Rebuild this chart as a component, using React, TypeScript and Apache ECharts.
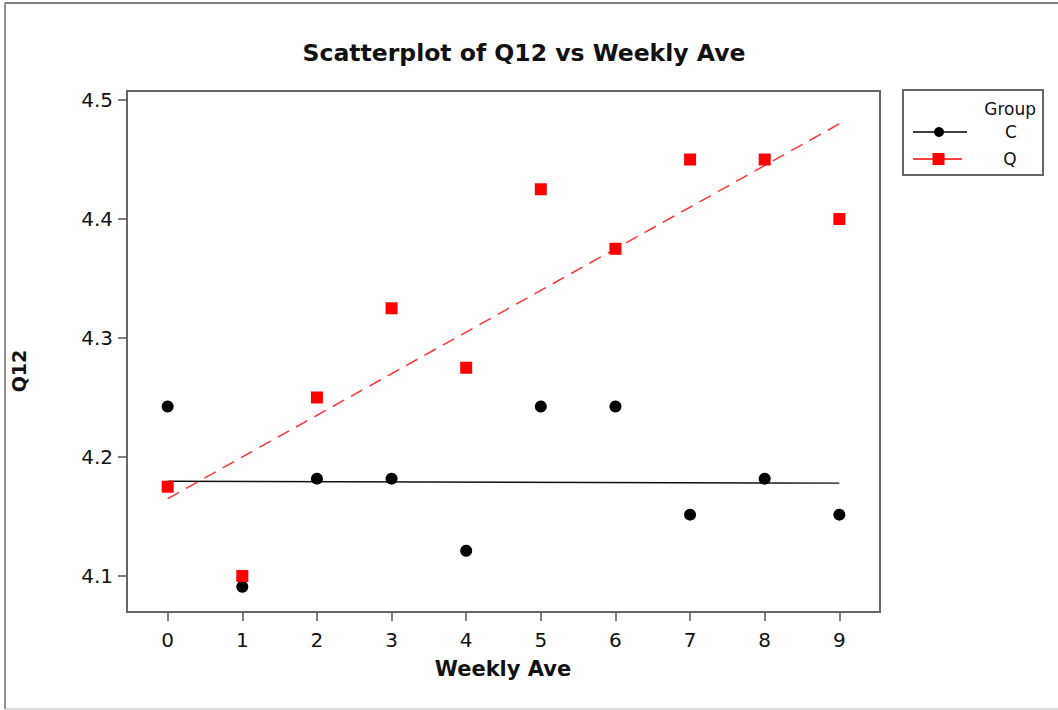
import React, { useEffect, useRef } from "react";
import * as echarts from "echarts";

const chartTitle = "Scatterplot of Q12 vs Weekly Ave";
const xAxisName = "Weekly Ave";
const yAxisName = "Q12";
const legendTitle = "Group";
const groupNames = ["C", "Q"];

const weeklyAve = [0, 1, 2, 3, 4, 5, 6, 7, 8, 9];
const groupC = [4.2424, 4.0909, 4.1818, 4.1818, 4.1212, 4.2424, 4.2424, 4.1515, 4.1818, 4.1515];
const groupQ = [4.175, 4.1, 4.25, 4.325, 4.275, 4.425, 4.375, 4.45, 4.45, 4.4];

const xTicks = [0, 1, 2, 3, 4, 5, 6, 7, 8, 9];
const yTicks = [4.1, 4.2, 4.3, 4.4, 4.5];

function fitLine(xs: number[], ys: number[]) {
  const n = xs.length;
  const mx = xs.reduce((a, b) => a + b, 0) / n;
  const my = ys.reduce((a, b) => a + b, 0) / n;
  let sxy = 0;
  let sxx = 0;
  for (let i = 0; i < n; i++) {
    sxy += (xs[i] - mx) * (ys[i] - my);
    sxx += (xs[i] - mx) * (xs[i] - mx);
  }
  const b = sxy / sxx;
  const a = my - b * mx;
  const x0 = Math.min(...xs);
  const x1 = Math.max(...xs);
  return [
    [x0, a + b * x0],
    [x1, a + b * x1],
  ];
}

const FONT = "DejaVu Sans";

export default function App() {
  const ref = useRef<HTMLDivElement>(null);
  useEffect(() => {
    if (!ref.current) return;
    const chart = echarts.init(ref.current, null, { renderer: "svg" });
    const ptsC = weeklyAve.map((x, i) => [x, groupC[i]]);
    const ptsQ = weeklyAve.map((x, i) => [x, groupQ[i]]);
    chart.setOption({
      animation: false,
      backgroundColor: "#ffffff",
      grid: {
        left: 127,
        top: 91,
        width: 753,
        height: 521,
        show: true,
        borderColor: "#666666",
        borderWidth: 2,
        backgroundColor: "transparent",
      },
      xAxis: {
        type: "value",
        min: -0.545,
        max: 9.545,
        splitLine: { show: false },
        axisLine: { show: true, onZero: false, lineStyle: { color: "#666666", width: 2 } },
        axisTick: {
          show: true,
          length: 9,
          customValues: xTicks,
          lineStyle: { color: "#555555", width: 1.5 },
        },
        axisLabel: {
          customValues: xTicks,
          margin: 18,
          fontFamily: FONT,
          fontSize: 20,
          color: "#111111",
        },
      },
      yAxis: {
        type: "value",
        min: 4.0697,
        max: 4.5076,
        splitLine: { show: false },
        axisLine: { show: true, onZero: false, lineStyle: { color: "#666666", width: 2 } },
        axisTick: {
          show: true,
          length: 9,
          customValues: yTicks,
          lineStyle: { color: "#555555", width: 1.5 },
        },
        axisLabel: {
          customValues: yTicks,
          margin: 14,
          fontFamily: FONT,
          fontSize: 20,
          color: "#111111",
          formatter: (v: number) => v.toFixed(1),
        },
      },
      graphic: [
        { type: "line", shape: { x1: 5, y1: 3, x2: 1058, y2: 3 }, style: { stroke: "#808080", lineWidth: 2 } },
        { type: "line", shape: { x1: 5, y1: 3, x2: 5, y2: 709 }, style: { stroke: "#909090", lineWidth: 2 } },
        { type: "line", shape: { x1: 5, y1: 709, x2: 1058, y2: 709 }, style: { stroke: "#d0d0d0", lineWidth: 1.5 } },
        {
          type: "text",
          x: 524,
          y: 53,
          style: {
            text: chartTitle,
            fontFamily: FONT,
            fontSize: 23.5,
            fontWeight: "bold",
            fill: "#111111",
            align: "center",
            verticalAlign: "middle",
          },
        },
        {
          type: "text",
          x: 503,
          y: 669,
          style: {
            text: xAxisName,
            fontFamily: FONT,
            fontSize: 21,
            fontWeight: "bold",
            fill: "#111111",
            align: "center",
            verticalAlign: "middle",
          },
        },
        {
          type: "text",
          x: 18.5,
          y: 371,
          rotation: Math.PI / 2,
          style: {
            text: yAxisName,
            fontFamily: FONT,
            fontSize: 19,
            fontWeight: "bold",
            fill: "#111111",
            align: "center",
            verticalAlign: "middle",
          },
        },
        {
          type: "rect",
          shape: { x: 903, y: 90, width: 140, height: 85 },
          style: { fill: "#ffffff", stroke: "#666666", lineWidth: 2 },
        },
        {
          type: "text",
          x: 1036,
          y: 109,
          style: {
            text: legendTitle,
            fontFamily: FONT,
            fontSize: 17,
            fill: "#111111",
            align: "right",
            verticalAlign: "middle",
          },
        },
        { type: "line", shape: { x1: 913, y1: 132, x2: 967, y2: 132 }, style: { stroke: "#000000", lineWidth: 1.5 } },
        { type: "circle", shape: { cx: 939, cy: 132, r: 5 }, style: { fill: "#000000" } },
        {
          type: "text",
          x: 1011,
          y: 132,
          style: {
            text: groupNames[0],
            fontFamily: FONT,
            fontSize: 17,
            fill: "#111111",
            align: "center",
            verticalAlign: "middle",
          },
        },
        { type: "line", shape: { x1: 913, y1: 159, x2: 962, y2: 159 }, style: { stroke: "#ff0000", lineWidth: 1.5 } },
        { type: "rect", shape: { x: 932.5, y: 153, width: 12, height: 12 }, style: { fill: "#ff0000" } },
        {
          type: "text",
          x: 1010,
          y: 159,
          style: {
            text: groupNames[1],
            fontFamily: FONT,
            fontSize: 17,
            fill: "#111111",
            align: "center",
            verticalAlign: "middle",
          },
        },
      ],
      series: [
        {
          name: groupNames[0] + " fit",
          type: "line",
          data: fitLine(weeklyAve, groupC),
          symbol: "none",
          lineStyle: { color: "#111111", width: 1.3 },
          z: 2,
        },
        {
          name: groupNames[1] + " fit",
          type: "line",
          data: fitLine(weeklyAve, groupQ),
          symbol: "none",
          lineStyle: { color: "#ff3333", width: 1.5, type: [13, 8] },
          z: 3,
        },
        {
          name: groupNames[0],
          type: "scatter",
          data: ptsC,
          symbol: "circle",
          symbolSize: 12,
          itemStyle: { color: "#000000", opacity: 1 },
          z: 4,
        },
        {
          name: groupNames[1],
          type: "scatter",
          data: ptsQ,
          symbol: "rect",
          symbolSize: 12,
          itemStyle: { color: "#ff0000", opacity: 1 },
          z: 5,
        },
      ],
    });
    return () => chart.dispose();
  }, []);
  return (
    <div
      ref={ref}
      style={{ position: "fixed", left: 0, top: 0, width: 1058, height: 710, background: "#fff" }}
    />
  );
}
